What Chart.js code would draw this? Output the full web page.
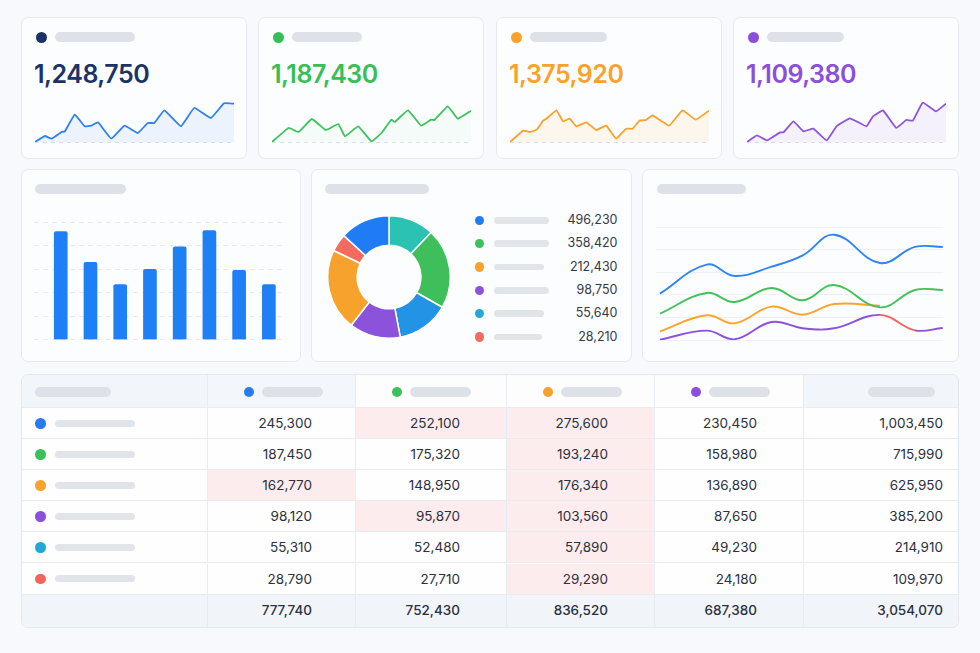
<!DOCTYPE html>
<html>
<head>
<meta charset="utf-8">
<script src="https://cdn.jsdelivr.net/npm/chart.js@4.4.1/dist/chart.umd.min.js"></script>
<style>
  body { margin:0; width:980px; height:653px; background:#f8f9fc; font-family:Inter, "Noto Sans", sans-serif; position:relative; overflow:hidden; }
  .card { position:absolute; background:#fcfdfe; border:1px solid #e6e9ef; border-radius:7px; box-sizing:border-box; }
  .ph { position:absolute; background:#dee1e7; border-radius:5px; }
  .dot { position:absolute; border-radius:50%; }
  .kpi { position:absolute; font-size:25px; font-weight:600; letter-spacing:-0.5px; line-height:26px; white-space:nowrap; }
  canvas { position:absolute; }
  .lv { position:absolute; font-size:12.5px; color:#343946; text-align:right; width:80px; line-height:14px; }
  #table { position:absolute; left:21px; top:373.5px; width:938px; height:254px; border:1px solid #e3e7ee; border-radius:7px; overflow:hidden; box-sizing:border-box; background:#fefefe; }
  .cell { position:absolute; box-sizing:border-box; border-right:1px solid #e8ebf0; border-bottom:1px solid #e8ebf0; font-size:13.5px; color:#2b3040; text-align:right; }
</style>
</head>
<body>
<div id="root"></div>
<script>
// ---- data ----
const kpiValues = [1248750, 1187430, 1375920, 1109380];
const kpiColors = ['#1b3364', '#36bf56', '#f9a12b', '#8b4fda'];
const sparkColors = ['#2f7ff0', '#3cc25a', '#f9a12b', '#8c53dc'];
const sparkFills = ['rgba(47,127,240,0.08)', 'rgba(60,194,90,0.04)', 'rgba(249,161,43,0.08)', 'rgba(140,83,220,0.07)'];
const kpiLabelWidths = [80, 70, 77, 77];

const sparkDays1 = [0,3,5,8,9,12,15,17,19,23,27,31,34,36,39,44,48,53,57,60];
const sparkVals1 = [0,18,10,30,32,82,47,49,59,10,49,27,57,57,95,47,102,72,116,115];
const sparkDays2 = [0,5,8,12,16,17,20,22,26,30,33,36,37,41,45,48,49,53,56,60];
const sparkVals2 = [0,42,30,69,37,39,54,17,47,2,27,67,60,95,49,67,66,107,70,94];
const sparkDays3 = [0,4,6,8,10,11,14,16,18,20,23,26,29,32,35,37,39,41,43,48,52,56,60];
const sparkVals3 = [0,34,30,37,64,70,95,62,70,47,59,36,49,10,40,40,64,66,80,49,95,67,94];
const sparkDays4 = [0,3,6,10,11,14,17,20,24,27,31,33,36,38,41,45,48,50,53,57,60];
const sparkVals4 = [0,20,5,29,29,62,32,40,5,47,71,62,47,77,95,42,66,64,118,92,115];

const barValues = [92, 66, 47, 60, 79, 93, 59, 47];

const donutValues = [43.4, 76.2, 49.8, 48.7, 77.5, 16.9, 47.5];
const donutColors = ['#2cc2b3', '#3ebf5b', '#2393e6', '#8b52dc', '#f8a22e', '#f36b5f', '#1f7cf4'];

const legendColors = ['#1f7cf4', '#3ebf5b', '#f8a22e', '#8b52dc', '#24a8d8', '#f36b5f'];
const legendValues = [496230, 358420, 212430, 98750, 55640, 28210];
const legendBarWidths = [55, 55, 50, 55, 50, 48];

const trendX = [0, 16.5, 26.4, 39.5, 50.5, 61.6, 77.8, 90.2, 100];
const trendBlue = [41.2, 66.8, 56.8, 65, 75, 93.2, 68.2, 82.4, 82.4];
const trendGreen = [23.5, 41.8, 33.8, 46.2, 35.3, 48.8, 29.1, 44.4, 44.4];
const trendOrange = [7.9, 22.1, 15, 29.7, 22.6, 32, 30.5, null, null];
const trendPurple = [0.6, 8.5, 0.9, 16.2, 10.6, 10.6, 22.4, 8.8, 10.9];

const rowColors = ['#2a7af0', '#3cc05a', '#f8a12c', '#8a4fdb', '#22a7d9', '#f3655a'];
const colColors = ['#2a7af0', '#3cc05a', '#f8a12c', '#8a4fdb'];
const tableRows = [
  [245300, 252100, 275600, 230450, 1003450],
  [187450, 175320, 193240, 158980, 715990],
  [162770, 148950, 176340, 136890, 625950],
  [98120, 95870, 103560, 87650, 385200],
  [55310, 52480, 57890, 49230, 214910],
  [28790, 27710, 29290, 24180, 109970]
];
const tableTotals = [777740, 752430, 836520, 687380, 3054070];
const highlighted = ['0-1', '0-2', '1-2', '2-0', '2-2', '3-1', '3-2', '4-2', '5-2'];

// ---- layout helpers ----
const root = document.getElementById('root');
function el(tag, cls, style, parent) {
  const e = document.createElement(tag);
  if (cls) e.className = cls;
  Object.assign(e.style, style || {});
  (parent || root).appendChild(e);
  return e;
}
const fmt = n => n.toLocaleString('en-US');
Chart.defaults.animation = false;

// ---- KPI cards ----
const kpiLefts = [20.5, 257.5, 495.5, 732.5];
const sparkDays = [sparkDays1, sparkDays2, sparkDays3, sparkDays4];
const sparkVals = [sparkVals1, sparkVals2, sparkVals3, sparkVals4];
kpiLefts.forEach((left, i) => {
  const card = el('div', 'card', {left: left + 'px', top: '16.5px', width: '226.5px', height: '142px'});
  el('div', 'dot', {left: '14px', top: '14.5px', width: '11px', height: '11px', background: kpiColors[i]}, card);
  el('div', 'ph', {left: '33px', top: '14.5px', width: kpiLabelWidths[i] + 'px', height: '9.5px'}, card);
  const v = el('div', 'kpi', {left: '12.5px', top: '43px', color: kpiColors[i]}, card);
  v.textContent = fmt(kpiValues[i]);

  const cv = el('canvas', '', {left: (left + 12) + 'px', top: '96px'});
  cv.width = 203; cv.height = 50;
  new Chart(cv, {
    type: 'line',
    data: { datasets: [{
      data: sparkDays[i].map((d, k) => ({x: d, y: sparkVals[i][k]})),
      borderColor: sparkColors[i], backgroundColor: sparkFills[i], fill: 'start',
      borderWidth: 1.8, pointRadius: 0, tension: 0.1
    }]},
    options: {
      responsive: false,
      layout: {padding: {left: 2, right: 2, top: 3, bottom: 4}},
      plugins: {legend: {display: false}, tooltip: {enabled: false}},
      scales: {
        x: {type: 'linear', min: 0, max: 60, display: false},
        y: {min: 0, max: 129, afterFit: s => { s.width = 0; },
            ticks: {display: false, stepSize: 200},
            border: {display: false, dash: [4, 4]},
            grid: {drawTicks: false, color: c => c.tick.value === 0 ? '#d8dce4' : 'transparent'}}
      }
    }
  });
});

// ---- row 2 cards ----
const barCard = el('div', 'card', {left: '20.5px', top: '169px', width: '280px', height: '192.5px'});
el('div', 'ph', {left: '13px', top: '14px', width: '91px', height: '10px'}, barCard);
const donutCard = el('div', 'card', {left: '310.5px', top: '169px', width: '321.5px', height: '192.5px'});
el('div', 'ph', {left: '13px', top: '14px', width: '104px', height: '10px'}, donutCard);
const lineCard = el('div', 'card', {left: '641.5px', top: '169px', width: '317px', height: '192.5px'});
el('div', 'ph', {left: '14px', top: '14px', width: '89px', height: '10px'}, lineCard);

// bar chart
const barCv = el('canvas', '', {left: '30px', top: '215px'});
barCv.width = 262; barCv.height = 130;
new Chart(barCv, {
  type: 'bar',
  data: { datasets: [{
    data: barValues.map((v, i) => ({x: i, y: v})),
    backgroundColor: '#1f7ff5', barThickness: 13, borderRadius: 2, borderSkipped: 'bottom'
  }]},
  options: {
    responsive: false,
    layout: {padding: {left: 4, right: 5.3, top: 7.3, bottom: 5.3}},
    plugins: {legend: {display: false}, tooltip: {enabled: false}},
    scales: {
      x: {type: 'linear', min: -0.9, max: 7.6, offset: false, display: false},
      y: {min: 0, max: 100, afterFit: s => { s.width = 0; },
          ticks: {display: false, stepSize: 20},
          border: {display: false, dash: [5, 4]},
          grid: {drawTicks: false, color: '#e7eaef'}}
    }
  }
});

// donut
const donutCv = el('canvas', '', {left: '327px', top: '214.5px'});
donutCv.width = 124; donutCv.height = 124;
new Chart(donutCv, {
  type: 'doughnut',
  data: { datasets: [{ data: donutValues, backgroundColor: donutColors, borderColor: '#ffffff', borderWidth: 1.5 }]},
  options: {
    responsive: false, cutout: '52%',
    plugins: {legend: {display: false}, tooltip: {enabled: false}}
  }
});
legendValues.forEach((v, i) => {
  const cy = 220.3 + i * 23.35;
  el('div', 'dot', {left: '474.5px', top: (cy - 4.8) + 'px', width: '9.6px', height: '9.6px', background: legendColors[i]});
  el('div', 'ph', {left: '493.5px', top: (cy - 3.3) + 'px', width: legendBarWidths[i] + 'px', height: '6.6px', borderRadius: '4px', background: '#e1e4e9'});
  const t = el('div', 'lv', {left: '537.5px', top: (cy - 7.5) + 'px'});
  t.textContent = fmt(v);
});

// line chart
const lineCv = el('canvas', '', {left: '650px', top: '220px'});
lineCv.width = 300; lineCv.height = 126;
const pts = arr => arr.map((v, i) => ({x: trendX[i], y: v}));
const lineDs = (data, color, extra) => Object.assign({
  data: pts(data), borderColor: color, borderWidth: 1.9, pointRadius: 0, tension: 0.4, fill: false
}, extra || {});
new Chart(lineCv, {
  type: 'line',
  data: { datasets: [
    lineDs(trendBlue, '#2e84f3'),
    lineDs(trendPurple, '#8d51db', {segment: {borderColor: c => c.p0DataIndex === 6 ? '#f0645c' : undefined}}),
    lineDs(trendGreen, '#42c05c'),
    lineDs(trendOrange, '#f9a42d')
  ]},
  options: {
    responsive: false,
    layout: {padding: {left: 6, right: 6.7, top: 7, bottom: 5.7}},
    plugins: {legend: {display: false}, tooltip: {enabled: false}},
    scales: {
      x: {type: 'linear', min: -1.4, max: 100.2, display: false},
      y: {min: 0, max: 100, afterFit: s => { s.width = 0; },
          ticks: {display: false, stepSize: 20},
          border: {display: false},
          grid: {drawTicks: false, color: '#eef0f4'}}
    }
  }
});

// ---- table ----
const table = el('div', '', {}, root);
table.id = 'table';
const colW = [186, 148, 151, 148, 149, 156];
const colL = colW.map((w, i) => colW.slice(0, i).reduce((a, b) => a + b, 0));
const padR = [0, 43, 46, 46, 46, 17];
const headerH = 33.5, rowH = 31.1;
const headBg = ['#f2f5f9', '#f3f6fa', '#fdfdfe', '#fdfdfe', '#fdfdfe', '#f2f5f9'];
function cell(c, top, h, bg) {
  return el('div', 'cell', {left: colL[c] + 'px', top: top + 'px', width: colW[c] + 'px', height: h + 'px', background: bg,
    borderRight: c === 5 ? 'none' : '1px solid #e8ebf0'}, table);
}
// header
for (let c = 0; c < 6; c++) {
  const h = cell(c, 0, headerH, headBg[c]);
  if (c === 0) el('div', 'ph', {left: '13px', top: '12.5px', width: '76px', height: '9.5px'}, h);
  else if (c < 5) {
    el('div', 'dot', {left: '36px', top: '12.5px', width: '10px', height: '10px', background: colColors[c - 1]}, h);
    el('div', 'ph', {left: '54px', top: '12.5px', width: '61px', height: '9.5px'}, h);
  } else el('div', 'ph', {left: '63.5px', top: '12.5px', width: '67px', height: '9.5px'}, h);
}
// body rows
tableRows.forEach((row, r) => {
  const top = headerH + r * rowH;
  const c0 = cell(0, top, rowH, '#fefefe');
  el('div', 'dot', {left: '13px', top: (rowH / 2 - 5.5) + 'px', width: '10.5px', height: '10.5px', background: rowColors[r]}, c0);
  el('div', 'ph', {left: '33px', top: (rowH / 2 - 4) + 'px', width: '79.5px', height: '7px', borderRadius: '4px', background: '#e1e4e9'}, c0);
  row.forEach((v, k) => {
    const hl = highlighted.includes(r + '-' + k);
    const cc = cell(k + 1, top, rowH, hl ? '#fdeced' : '#fefefe');
    Object.assign(cc.style, {lineHeight: (rowH - 1) + 'px', paddingRight: padR[k + 1] + 'px'});
    cc.textContent = fmt(v);
  });
});
// totals
const footTop = headerH + tableRows.length * rowH;
for (let c = 0; c < 6; c++) {
  const fc = cell(c, footTop, 254 - footTop, '#f1f4f8');
  fc.style.borderBottom = 'none';
  if (c > 0) {
    Object.assign(fc.style, {lineHeight: (254 - footTop - 2) + 'px', paddingRight: padR[c] + 'px', fontWeight: 500});
    fc.textContent = fmt(tableTotals[c - 1]);
  }
}
</script>
</body>
</html>
